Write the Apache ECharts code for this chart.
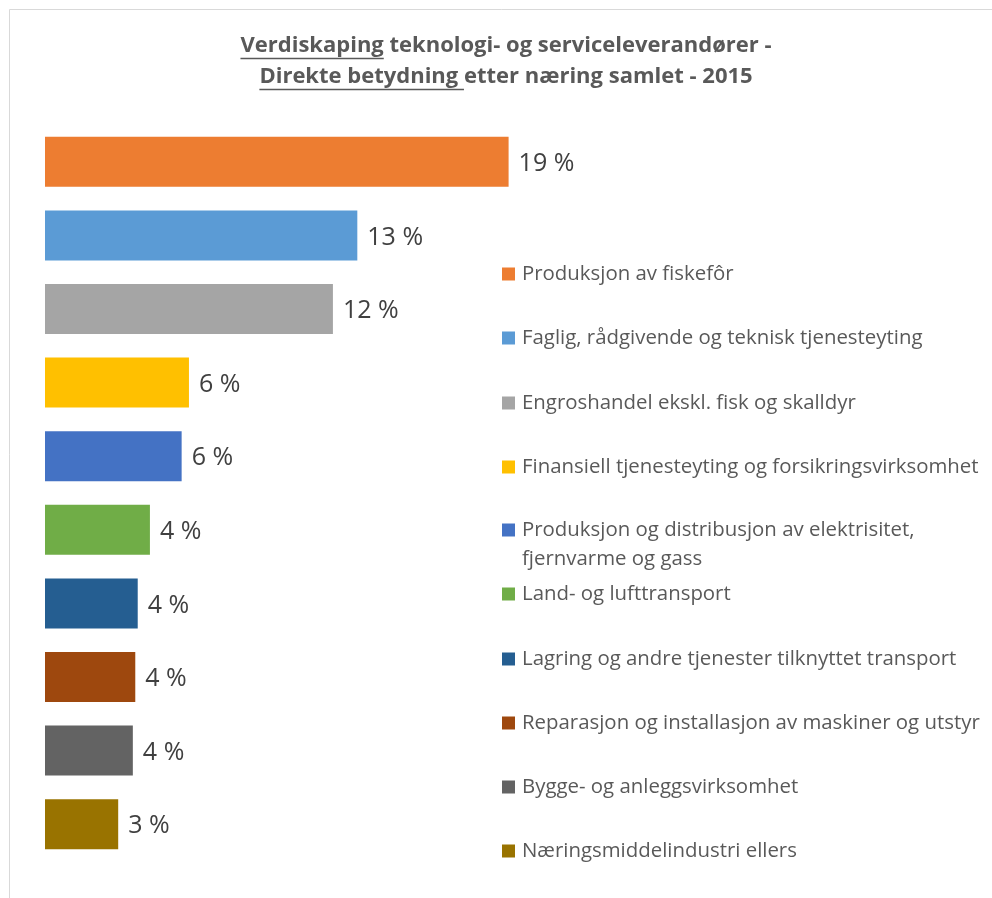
<!DOCTYPE html>
<html>
<head>
<meta charset="utf-8">
<script src="https://cdn.jsdelivr.net/npm/echarts@6/dist/echarts.min.js"></script>
<style>
html,body{margin:0;padding:0;background:#fff;}
#chart{width:992px;height:898px;}
</style>
</head>
<body>
<div id="chart"></div>
<script>
// ---- data ----
const categories = [
  'Produksjon av fiskefôr',
  'Faglig, rådgivende og teknisk tjenesteyting',
  'Engroshandel ekskl. fisk og skalldyr',
  'Finansiell tjenesteyting og forsikringsvirksomhet',
  'Produksjon og distribusjon av elektrisitet,\nfjernvarme og gass',
  'Land- og lufttransport',
  'Lagring og andre tjenester tilknyttet transport',
  'Reparasjon og installasjon av maskiner og utstyr',
  'Bygge- og anleggsvirksomhet',
  'Næringsmiddelindustri ellers'
];
const values = [19.0, 12.8, 11.8, 5.9, 5.6, 4.3, 3.8, 3.7, 3.6, 3.0];
const colors = ['#ED7D31','#5B9BD5','#A5A5A5','#FFC000','#4472C4','#70AD47','#255E91','#9E480E','#636363','#997300'];
const titleLine1 = ['Verdiskaping', ' teknologi- og serviceleverandører -'];
const titleLine2 = ['Direkte betydning ', 'etter næring samlet - 2015'];

// ---- layout ----
const FONT = '"Open Sans", "Noto Sans", sans-serif';
const legendCenters = [274, 338, 403, 467, 530, 594, 659, 723, 787, 851];
const LH = 29;
const titleFont = 'bold 22px "Open Sans"';
const titleCx = 506, titleY1 = 46, titleY2 = 77;

const chart = echarts.init(document.getElementById('chart'), null, {renderer: 'canvas'});

const cv = document.createElement('canvas').getContext('2d');
cv.font = titleFont;
const w = s => cv.measureText(s).width;

const l1full = titleLine1.join(''), l2full = titleLine2.join('');
const l1x = titleCx - w(l1full) / 2, l2x = titleCx - w(l2full) / 2;

const series = categories.map((name, i) => ({
  name: name,
  type: 'bar',
  stack: 'all',
  barWidth: 50,
  itemStyle: {color: colors[i]},
  label: {
    show: true,
    position: 'right',
    distance: 10,
    offset: [0, 2],
    fontFamily: FONT,
    fontSize: 25,
    color: '#404040',
    formatter: p => Math.round(p.value) + ' %'
  },
  data: categories.map((c, j) => (j === i ? values[i] : '-'))
}));

const legends = categories.map((name, i) => {
  const multi = name.indexOf('\n') >= 0;
  return {
    data: [name],
    left: 502,
    top: legendCenters[i] - (multi ? LH * 1.5 : LH / 2),
    orient: 'vertical',
    icon: 'rect',
    itemWidth: 13,
    itemHeight: 13,
    itemGap: 0,
    padding: 0,
    selectedMode: false,
    formatter: multi ? (n => ' \n' + n) : (n => n),
    textStyle: {
      fontFamily: FONT,
      fontSize: 20.4,
      color: '#595959',
      lineHeight: LH,
      padding: [0, 0, 0, 2]
    }
  };
});

const option = {
  backgroundColor: '#ffffff',
  animation: false,
  grid: {left: 45, top: 125, width: 488, height: 736, containLabel: false},
  xAxis: {type: 'value', min: 0, max: 20, show: false},
  yAxis: {type: 'category', data: categories, inverse: true, show: false},
  legend: legends,
  series: series,
  graphic: [
    {type: 'rect', shape: {x: 9.5, y: 9.5, width: 1200, height: 1200}, style: {fill: 'none', stroke: '#d9d9d9', lineWidth: 1}, silent: true},
    {type: 'text', x: titleCx, y: titleY1, style: {text: l1full, font: titleFont, fill: '#595959', align: 'center', verticalAlign: 'middle'}},
    {type: 'text', x: titleCx, y: titleY2, style: {text: l2full, font: titleFont, fill: '#595959', align: 'center', verticalAlign: 'middle'}},
    {type: 'line', shape: {x1: l1x, y1: titleY1 + 12.5, x2: l1x + w(titleLine1[0]), y2: titleY1 + 12.5}, style: {stroke: '#595959', lineWidth: 1.5}},
    {type: 'line', shape: {x1: l2x, y1: titleY2 + 12.5, x2: l2x + w(titleLine2[0]), y2: titleY2 + 12.5}, style: {stroke: '#595959', lineWidth: 1.5}}
  ]
};
chart.setOption(option);
</script>
</body>
</html>
